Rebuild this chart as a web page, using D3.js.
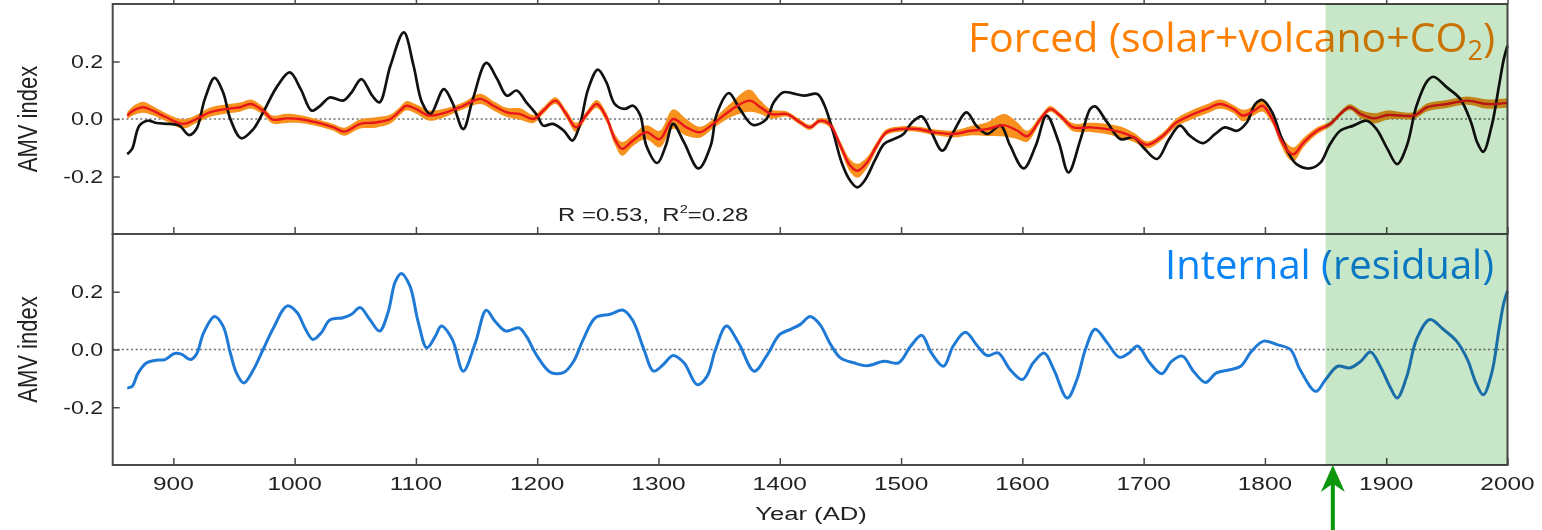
<!DOCTYPE html>
<html>
<head>
<meta charset="utf-8">
<script src="https://cdn.jsdelivr.net/npm/d3@7"></script>
<style>
  html, body { margin: 0; padding: 0; background: #fff; }
  svg { display: block; }
</style>
</head>
<body>
<svg id="chart" width="1542" height="530"></svg>
<script>
// Reconstructed AMV (black), its forced component (red with orange spread) and the internal residual (blue)
const observedAMV = [
  [862,-0.122],[866,-0.104],[872,-0.023],[879,-0.006],[886,-0.014],[897,-0.017],[905,-0.023],[913,-0.056],
  [919,-0.035],[926,0.07],[934,0.143],[941,0.093],[947,0.0],[956,-0.067],[966,-0.035],[974,0.023],
  [986,0.116],[996,0.162],[1005,0.104],[1014,0.029],[1021,0.046],[1029,0.075],[1040,0.064],[1047,0.093],
  [1055,0.139],[1064,0.081],[1070,0.058],[1079,0.186],[1090,0.301],[1098,0.186],[1105,0.058],[1112,0.017],
  [1123,0.104],[1130,0.058],[1139,-0.035],[1147,0.07],[1158,0.195],[1167,0.139],[1175,0.081],[1183,0.099],
  [1191,0.058],[1200,0.012],[1205,-0.023],[1213,-0.017],[1222,-0.041],[1229,-0.075],[1235,-0.023],[1242,0.104],
  [1250,0.172],[1257,0.128],[1264,0.052],[1272,0.035],[1279,0.046],[1285,0.012],[1290,-0.093],[1299,-0.153],
  [1306,-0.093],[1312,-0.017],[1321,-0.081],[1333,-0.172],[1343,-0.093],[1348,0.017],[1358,0.09],[1367,0.035],
  [1378,-0.021],[1389,0.0],[1395,0.058],[1403,0.093],[1410,0.09],[1420,0.081],[1431,0.087],[1437,0.046],
  [1444,-0.046],[1451,-0.151],[1458,-0.214],[1464,-0.238],[1470,-0.214],[1479,-0.139],[1486,-0.087],[1494,-0.07],
  [1502,-0.052],[1509,-0.012],[1517,0.009],[1525,-0.046],[1534,-0.11],[1543,-0.046],[1554,0.023],[1562,-0.023],
  [1571,-0.052],[1582,-0.023],[1590,-0.093],[1601,-0.172],[1611,-0.093],[1620,0.012],[1630,-0.081],[1638,-0.186],
  [1648,-0.07],[1656,0.035],[1660,0.044],[1670,-0.012],[1681,-0.07],[1692,-0.064],[1700,-0.1],[1711,-0.139],
  [1721,-0.07],[1730,-0.023],[1738,-0.058],[1749,-0.084],[1759,-0.052],[1767,-0.029],[1777,-0.041],[1785,-0.012],
  [1792,0.052],[1798,0.066],[1806,0.023],[1813,-0.058],[1820,-0.122],[1826,-0.157],[1837,-0.172],[1846,-0.151],
  [1853,-0.093],[1862,-0.041],[1873,-0.023],[1884,-0.006],[1892,-0.035],[1901,-0.104],[1909,-0.157],[1917,-0.093],
  [1925,0.046],[1934,0.133],[1939,0.147],[1950,0.11],[1961,0.07],[1970,-0.012],[1975,-0.081],[1980,-0.114],
  [1987,-0.023],[1993,0.116],[1997,0.209],[2000,0.255]
];

const forcedAMV = [
  [862,0.012],[867,0.029],[875,0.041],[883,0.029],[894,0.006],[908,-0.017],[919,0.0],[930,0.023],
  [944,0.035],[955,0.041],[964,0.052],[974,0.029],[982,-0.002],[993,0.002],[1004,0.0],[1018,-0.012],
  [1032,-0.029],[1041,-0.044],[1054,-0.017],[1067,-0.012],[1079,0.0],[1087,0.029],[1092,0.046],[1100,0.035],
  [1111,0.012],[1125,0.023],[1139,0.046],[1153,0.07],[1164,0.046],[1175,0.023],[1186,0.017],[1197,0.0],
  [1205,0.029],[1215,0.064],[1224,0.017],[1232,-0.029],[1241,0.017],[1249,0.052],[1257,0.006],[1264,-0.07],
  [1270,-0.104],[1279,-0.075],[1290,-0.046],[1301,-0.07],[1312,0.0],[1323,-0.029],[1334,-0.046],[1345,-0.017],
  [1359,0.029],[1375,0.064],[1384,0.041],[1393,0.017],[1406,0.017],[1417,-0.012],[1425,-0.029],[1433,-0.006],
  [1441,-0.017],[1450,-0.093],[1458,-0.162],[1464,-0.18],[1472,-0.151],[1480,-0.093],[1488,-0.046],[1499,-0.035],
  [1513,-0.035],[1527,-0.046],[1543,-0.052],[1557,-0.041],[1571,-0.035],[1585,-0.022],[1596,-0.041],[1604,-0.06],
  [1615,0.0],[1623,0.035],[1631,0.012],[1642,-0.029],[1656,-0.029],[1670,-0.035],[1681,-0.046],[1692,-0.064],
  [1703,-0.09],[1716,-0.058],[1727,-0.012],[1741,0.017],[1752,0.035],[1763,0.052],[1774,0.035],[1782,0.012],
  [1791,0.029],[1798,0.046],[1806,0.0],[1813,-0.07],[1820,-0.116],[1824,-0.122],[1832,-0.081],[1843,-0.041],
  [1854,-0.017],[1862,0.017],[1870,0.041],[1879,0.017],[1890,0.002],[1901,0.014],[1912,0.012],[1923,0.012],
  [1934,0.041],[1950,0.052],[1967,0.064],[1983,0.052],[2000,0.056]
];

// half-width of the forced-response spread, one per forced point
const forcedSpread = [
  .012,.016,.019,.016,.014,.016,.014,.016,
  .016,.016,.016,.014,.014,.016,.014,.012,
  .012,.014,.016,.018,.016,.014,.016,.016,
  .018,.014,.012,.018,.016,.016,.020,.014,
  .012,.012,.014,.016,.012,.014,.016,.019,
  .024,.019,.024,.029,.034,.029,.019,.016,
  .024,.039,.024,.016,.009,.009,.009,.009,
  .012,.016,.022,.024,.019,.014,.010,.009,
  .009,.010,.012,.016,.024,.039,.029,.019,
  .012,.010,.010,.014,.016,.018,.020,.016,
  .012,.012,.014,.016,.016,.016,.014,.020,
  .016,.020,.016,.019,.024,.024,.016,.012,
  .009,.009,.010,.014,.018,.016,.012,.012,
  .014,.014,.014,.016,.016
];

const internalAMV = [
  [862,-0.133],[866,-0.128],[871,-0.081],[878,-0.046],[886,-0.037],[893,-0.035],[901,-0.014],[907,-0.017],
  [914,-0.035],[919,-0.017],[925,0.058],[934,0.114],[941,0.081],[947,-0.012],[952,-0.081],[958,-0.116],
  [966,-0.07],[974,0.0],[982,0.07],[994,0.151],[1002,0.128],[1009,0.07],[1015,0.035],[1022,0.058],
  [1029,0.102],[1040,0.11],[1047,0.122],[1054,0.145],[1062,0.104],[1070,0.064],[1077,0.128],[1083,0.235],
  [1088,0.263],[1095,0.22],[1102,0.093],[1109,0.006],[1116,0.046],[1121,0.081],[1130,0.035],[1139,-0.075],
  [1149,0.023],[1158,0.136],[1165,0.099],[1174,0.064],[1185,0.075],[1191,0.046],[1200,-0.023],[1211,-0.079],
  [1222,-0.079],[1230,-0.041],[1238,0.035],[1248,0.11],[1260,0.122],[1271,0.136],[1279,0.099],[1288,0.0],
  [1296,-0.075],[1304,-0.052],[1312,-0.021],[1321,-0.046],[1332,-0.122],[1340,-0.093],[1347,0.0],[1356,0.081],
  [1366,0.023],[1379,-0.075],[1389,-0.023],[1400,0.052],[1409,0.07],[1417,0.087],[1425,0.114],[1433,0.087],
  [1442,0.017],[1450,-0.029],[1461,-0.046],[1472,-0.056],[1486,-0.041],[1498,-0.046],[1508,0.012],[1517,0.049],
  [1525,-0.012],[1535,-0.058],[1543,0.012],[1553,0.06],[1563,0.012],[1571,-0.021],[1580,-0.012],[1590,-0.07],
  [1600,-0.104],[1609,-0.046],[1618,-0.012],[1626,-0.07],[1637,-0.168],[1645,-0.104],[1652,0.0],[1660,0.07],
  [1670,0.023],[1680,-0.027],[1688,-0.012],[1695,0.012],[1705,-0.046],[1715,-0.084],[1723,-0.041],[1732,-0.023],
  [1741,-0.075],[1751,-0.114],[1760,-0.081],[1771,-0.07],[1780,-0.058],[1789,-0.006],[1799,0.029],[1810,0.017],
  [1821,0.0],[1829,-0.07],[1842,-0.145],[1850,-0.104],[1860,-0.058],[1870,-0.064],[1879,-0.041],[1887,-0.009],
  [1895,-0.058],[1903,-0.128],[1909,-0.168],[1917,-0.093],[1925,0.035],[1936,0.104],[1947,0.07],[1958,0.029],
  [1967,-0.035],[1974,-0.116],[1980,-0.157],[1987,-0.081],[1993,0.07],[1997,0.162],[2000,0.203]
];

const yearTicks = [900,1000,1100,1200,1300,1400,1500,1600,1700,1800,1900,2000];
const amvTicks = [0.2, 0.0, -0.2];
const amvTickLabels = ["0.2", "0.0", "-0.2"];
const recentPeriod = [1850, 2000];
const arrowYear = 1856;
const correlationText = { r: "R =0.53,\u00a0\u00a0R", sup: "2", r2: "=0.28" };

// ---------- layout ----------
const svg = d3.select("#chart");
const left = 112.7, right = 1507.5;
const topPanel = { y0: 4, y1: 234 };
const botPanel = { y0: 234, y1: 465 };
const stretch = 1.32; // wide-set axis lettering

const x = d3.scaleLinear().domain([850, 2000]).range([left, right]);
const yTop = d3.scaleLinear().domain([-0.4, 0.4]).range([topPanel.y1, topPanel.y0]);
const yBot = d3.scaleLinear().domain([-0.4, 0.4]).range([botPanel.y1, botPanel.y0]);

const sansAxis = "'Liberation Sans', Arial, Helvetica, sans-serif";
const sansTitle = "'Open Sans', 'Noto Sans', sans-serif";
const curve = d3.curveCatmullRom.alpha(0.5);

svg.append("rect").attr("width", 1542).attr("height", 530).attr("fill", "#ffffff");

// zero reference lines
[yTop, yBot].forEach(y => {
  svg.append("line")
    .attr("x1", left).attr("x2", right)
    .attr("y1", y(0)).attr("y2", y(0))
    .attr("stroke", "#6e6e6e").attr("stroke-width", 1.7)
    .attr("stroke-dasharray", "2,2.6");
});

// forced spread band
const bandData = forcedAMV.map((d, i) => ({ year: d[0], v: d[1], s: forcedSpread[i] }));
svg.append("path")
  .datum(bandData)
  .attr("fill", "#f7921e")
  .attr("d", d3.area().curve(curve)
    .x(d => x(d.year)).y0(d => yTop(d.v - d.s)).y1(d => yTop(d.v + d.s)));

// observed AMV
svg.append("path")
  .datum(observedAMV)
  .attr("fill", "none").attr("stroke", "#111").attr("stroke-width", 2.7)
  .attr("stroke-linejoin", "round")
  .attr("d", d3.line().curve(curve).x(d => x(d[0])).y(d => yTop(d[1])));

// forced mean
svg.append("path")
  .datum(forcedAMV)
  .attr("fill", "none").attr("stroke", "#e8161c").attr("stroke-width", 2.4)
  .attr("stroke-linejoin", "round")
  .attr("d", d3.line().curve(curve).x(d => x(d[0])).y(d => yTop(d[1])));

// internal residual
svg.append("path")
  .datum(internalAMV)
  .attr("fill", "none").attr("stroke", "#1f7ad6").attr("stroke-width", 3)
  .attr("stroke-linejoin", "round")
  .attr("d", d3.line().curve(curve).x(d => x(d[0])).y(d => yBot(d[1])));

// panel titles
const forcedTitle = svg.append("text")
  .attr("x", 1495).attr("y", 52)
  .attr("text-anchor", "end")
  .attr("font-family", sansTitle).attr("font-size", 41)
  .attr("fill", "#ff8000");
forcedTitle.append("tspan").text("Forced (solar+volcano+CO");
forcedTitle.append("tspan").attr("font-size", 27).attr("dy", 8).text("2");
forcedTitle.append("tspan").attr("dy", -8).text(")");

svg.append("text")
  .attr("x", 1494).attr("y", 279)
  .attr("text-anchor", "end")
  .attr("font-family", sansTitle).attr("font-size", 40)
  .attr("fill", "#0a84f5")
  .text("Internal (residual)");

// correlation label
const rt = svg.append("text")
  .attr("transform", `translate(558,221) scale(1.33,1)`)
  .attr("font-family", sansAxis).attr("font-size", 18).attr("fill", "#222");
rt.append("tspan").text(correlationText.r);
rt.append("tspan").attr("font-size", 11).attr("dy", -8).text(correlationText.sup);
rt.append("tspan").attr("dy", 8).text(correlationText.r2);

// frames and ticks
const frameColor = "#4a4a4a";
[{ p: topPanel, y: yTop, topTicks: true }, { p: botPanel, y: yBot, topTicks: false }].forEach(({ p, y, topTicks }) => {
  svg.append("rect")
    .attr("x", left).attr("y", p.y0)
    .attr("width", right - left).attr("height", p.y1 - p.y0)
    .attr("fill", "none").attr("stroke", frameColor).attr("stroke-width", 2);

  // inward y ticks
  const yAxis = d3.axisLeft(y).tickValues(amvTicks).tickSize(-7).tickFormat((d, i) => amvTickLabels[i]);
  const ga = svg.append("g").attr("transform", `translate(${left},0)`).call(yAxis);
  ga.select(".domain").remove();
  ga.selectAll(".tick line").attr("stroke", frameColor).attr("stroke-width", 1.5);
  ga.selectAll(".tick text").remove();
  amvTicks.forEach((v, i) => {
    svg.append("text")
      .attr("transform", `translate(103,${y(v) + 6.3}) scale(${stretch},1)`)
      .attr("text-anchor", "end")
      .attr("font-family", sansAxis).attr("font-size", 17.5).attr("fill", "#222")
      .text(amvTickLabels[i]);
  });

  // inward year ticks on the bottom edge
  const xb = d3.axisBottom(x).tickValues(yearTicks).tickSize(-7).tickFormat("");
  const gx = svg.append("g").attr("transform", `translate(0,${p.y1})`).call(xb);
  gx.select(".domain").remove();
  gx.selectAll(".tick line").attr("stroke", frameColor).attr("stroke-width", 1.5);

  if (topTicks) {
    const xt = d3.axisTop(x).tickValues(yearTicks).tickSize(5).tickFormat("");
    const gt = svg.append("g").attr("transform", `translate(0,${p.y0})`).call(xt);
    gt.select(".domain").remove();
    gt.selectAll(".tick line").attr("stroke", frameColor).attr("stroke-width", 1.5);
  }

  // y axis title
  const cy = (p.y0 + p.y1) / 2;
  svg.append("text")
    .attr("transform", `translate(37,${cy}) scale(1.25,1) rotate(-90)`)
    .attr("text-anchor", "middle")
    .attr("font-family", sansAxis).attr("font-size", 22).attr("fill", "#222")
    .text("AMV index");
});

// year labels
yearTicks.forEach(t => {
  svg.append("text")
    .attr("transform", `translate(${x(t)},490) scale(${stretch},1)`)
    .attr("text-anchor", "middle")
    .attr("font-family", sansAxis).attr("font-size", 18.5).attr("fill", "#222")
    .text(t);
});
svg.append("text")
  .attr("transform", `translate(811,520) scale(1.35,1)`)
  .attr("text-anchor", "middle")
  .attr("font-family", sansAxis).attr("font-size", 19).attr("fill", "#222")
  .text("Year (AD)");

// recent period highlight, tinted over everything below it
svg.append("rect")
  .attr("x", x(recentPeriod[0])).attr("y", topPanel.y0)
  .attr("width", x(recentPeriod[1]) - x(recentPeriod[0]))
  .attr("height", botPanel.y1 - topPanel.y0)
  .attr("fill", "#c8e6c8")
  .style("mix-blend-mode", "multiply");

// arrow marking the start of the recent period
const ax = x(arrowYear);
const tip = botPanel.y1;
svg.append("path")
  .attr("fill", "#0b960b")
  .attr("d", `M${ax},${tip} L${ax + 12},${tip + 27} L${ax + 2},${tip + 20} L${ax + 2},530 L${ax - 2},530 L${ax - 2},${tip + 20} L${ax - 12},${tip + 27} Z`);
</script>
</body>
</html>
